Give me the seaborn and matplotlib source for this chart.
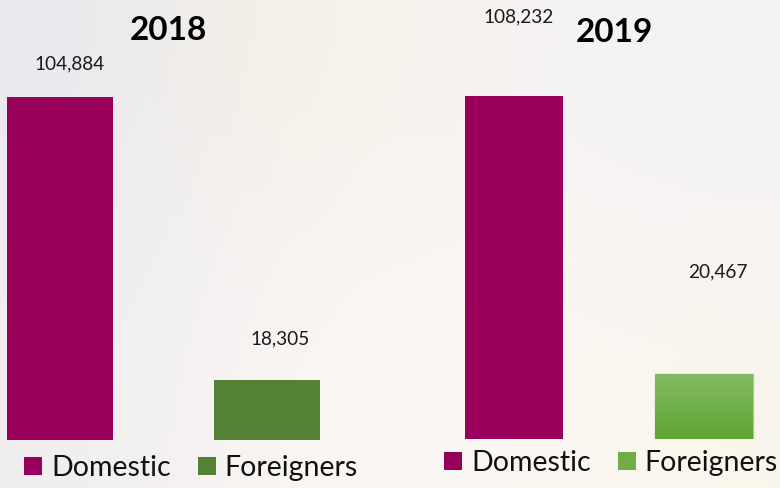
import numpy as np
import pandas as pd
import matplotlib
matplotlib.use("Agg")
import matplotlib.pyplot as plt
from matplotlib.patches import Patch
from matplotlib.colors import LinearSegmentedColormap
import seaborn as sns

# ---- data ----
categories = ["Domestic", "Foreigners"]
years = ["2018", "2019"]
values_2018 = [104884, 18305]
values_2019 = [108232, 20467]
value_labels_2018 = ["104,884", "18,305"]
value_labels_2019 = ["108,232", "20,467"]

sns.set_theme(style="white")
plt.rcParams["font.family"] = ["Lato", "DejaVu Sans"]

W, H = 780, 488
fig = plt.figure(figsize=(W / 100, H / 100), dpi=100)

# background gradient
bg = fig.add_axes([0, 0, 1, 1], zorder=-10)
grid = np.array([
    [[233, 232, 238], [247, 243, 228], [246, 242, 242], [243, 242, 244]],
    [[238, 236, 240], [248, 244, 242], [249, 246, 243], [247, 244, 242]],
    [[240, 238, 238], [250, 247, 244], [251, 248, 244], [250, 246, 236]],
], dtype=float) / 255
bg.imshow(grid, aspect="auto", interpolation="bicubic", extent=[0, 1, 0, 1])
bg.set_axis_off()

def px_axes(left, bottom, width, height):
    return fig.add_axes([left / W, bottom / H, width / W, height / H])

panels = [
    dict(vals=values_2018, labels=value_labels_2018, year=years[0],
         rect=(0, 48, 390, 440), xlim=(-60 / 207, 330 / 207), width=106 / 207,
         colors=["#99005c", "#548235"],
         offsets=[(9, 33), (13, 41)], title_xy=(168, 30),
         leg_xy=(24, 468)),
    dict(vals=values_2019, labels=value_labels_2019, year=years[1],
         rect=(390, 49, 390, 439), xlim=(-124 / 190, 266 / 190), width=98 / 190,
         colors=["#99005c", "#70ad47"],
         offsets=[(5, 79), (14, 102)], title_xy=(614, 32),
         leg_xy=(444, 463)),
]

green_grad = LinearSegmentedColormap.from_list("g", ["#5fa531", "#82bb63"])

for i, p in enumerate(panels):
    ax = px_axes(*p["rect"])
    df = pd.DataFrame({"cat": categories, "val": p["vals"]})
    sns.barplot(data=df, x="cat", y="val", hue="cat", order=categories,
                hue_order=categories, palette=p["colors"], width=p["width"],
                saturation=1, legend=False, ax=ax, linewidth=0)
    ax.set_xlim(*p["xlim"])
    ax.set_ylim(0, p["vals"][0] * p["rect"][3] / 343)
    ax.set_axis_off()
    ax.patch.set_alpha(0)

    # gradient on 2019 foreigners bar
    if i == 1:
        bar = ax.patches[1]
        x0, y0 = bar.get_x(), bar.get_y()
        bw, bh = bar.get_width(), bar.get_height()
        im = ax.imshow(np.linspace(0, 1, 100).reshape(-1, 1), cmap=green_grad,
                       origin="lower", aspect="auto",
                       extent=[x0, x0 + bw, y0, y0 + bh], zorder=3)
        im.set_clip_path(bar)
        bar.set_edgecolor("#a9d18e")
        bar.set_linewidth(1.0)
        ax.set_xlim(*p["xlim"])
        ax.set_ylim(0, p["vals"][0] * p["rect"][3] / 343)

    for j, bar in enumerate(ax.patches[:2]):
        cx = bar.get_x() + bar.get_width() / 2
        ax.annotate(p["labels"][j], xy=(cx, bar.get_height()),
                    xytext=p["offsets"][j], textcoords="offset pixels",
                    ha="center", va="center", fontsize=13.7, color="#1a1a1a",
                    annotation_clip=False)

    fig.text(p["title_xy"][0] / W, 1 - p["title_xy"][1] / H, p["year"],
             ha="center", va="center", fontsize=24, fontweight="bold", color="black")

    handles = [Patch(facecolor=c, edgecolor="none") for c in p["colors"]]
    ax.legend(handles, categories, loc="center left",
              bbox_to_anchor=(p["leg_xy"][0] / W, 1 - p["leg_xy"][1] / H),
              bbox_transform=fig.transFigure, ncol=2, frameon=False,
              fontsize=20.5, handlelength=0.63, handleheight=0.63,
              handletextpad=0.32, columnspacing=0.95, borderpad=0, borderaxespad=0,
              labelcolor="#111111")

fig.savefig("out.png", dpi=100)
